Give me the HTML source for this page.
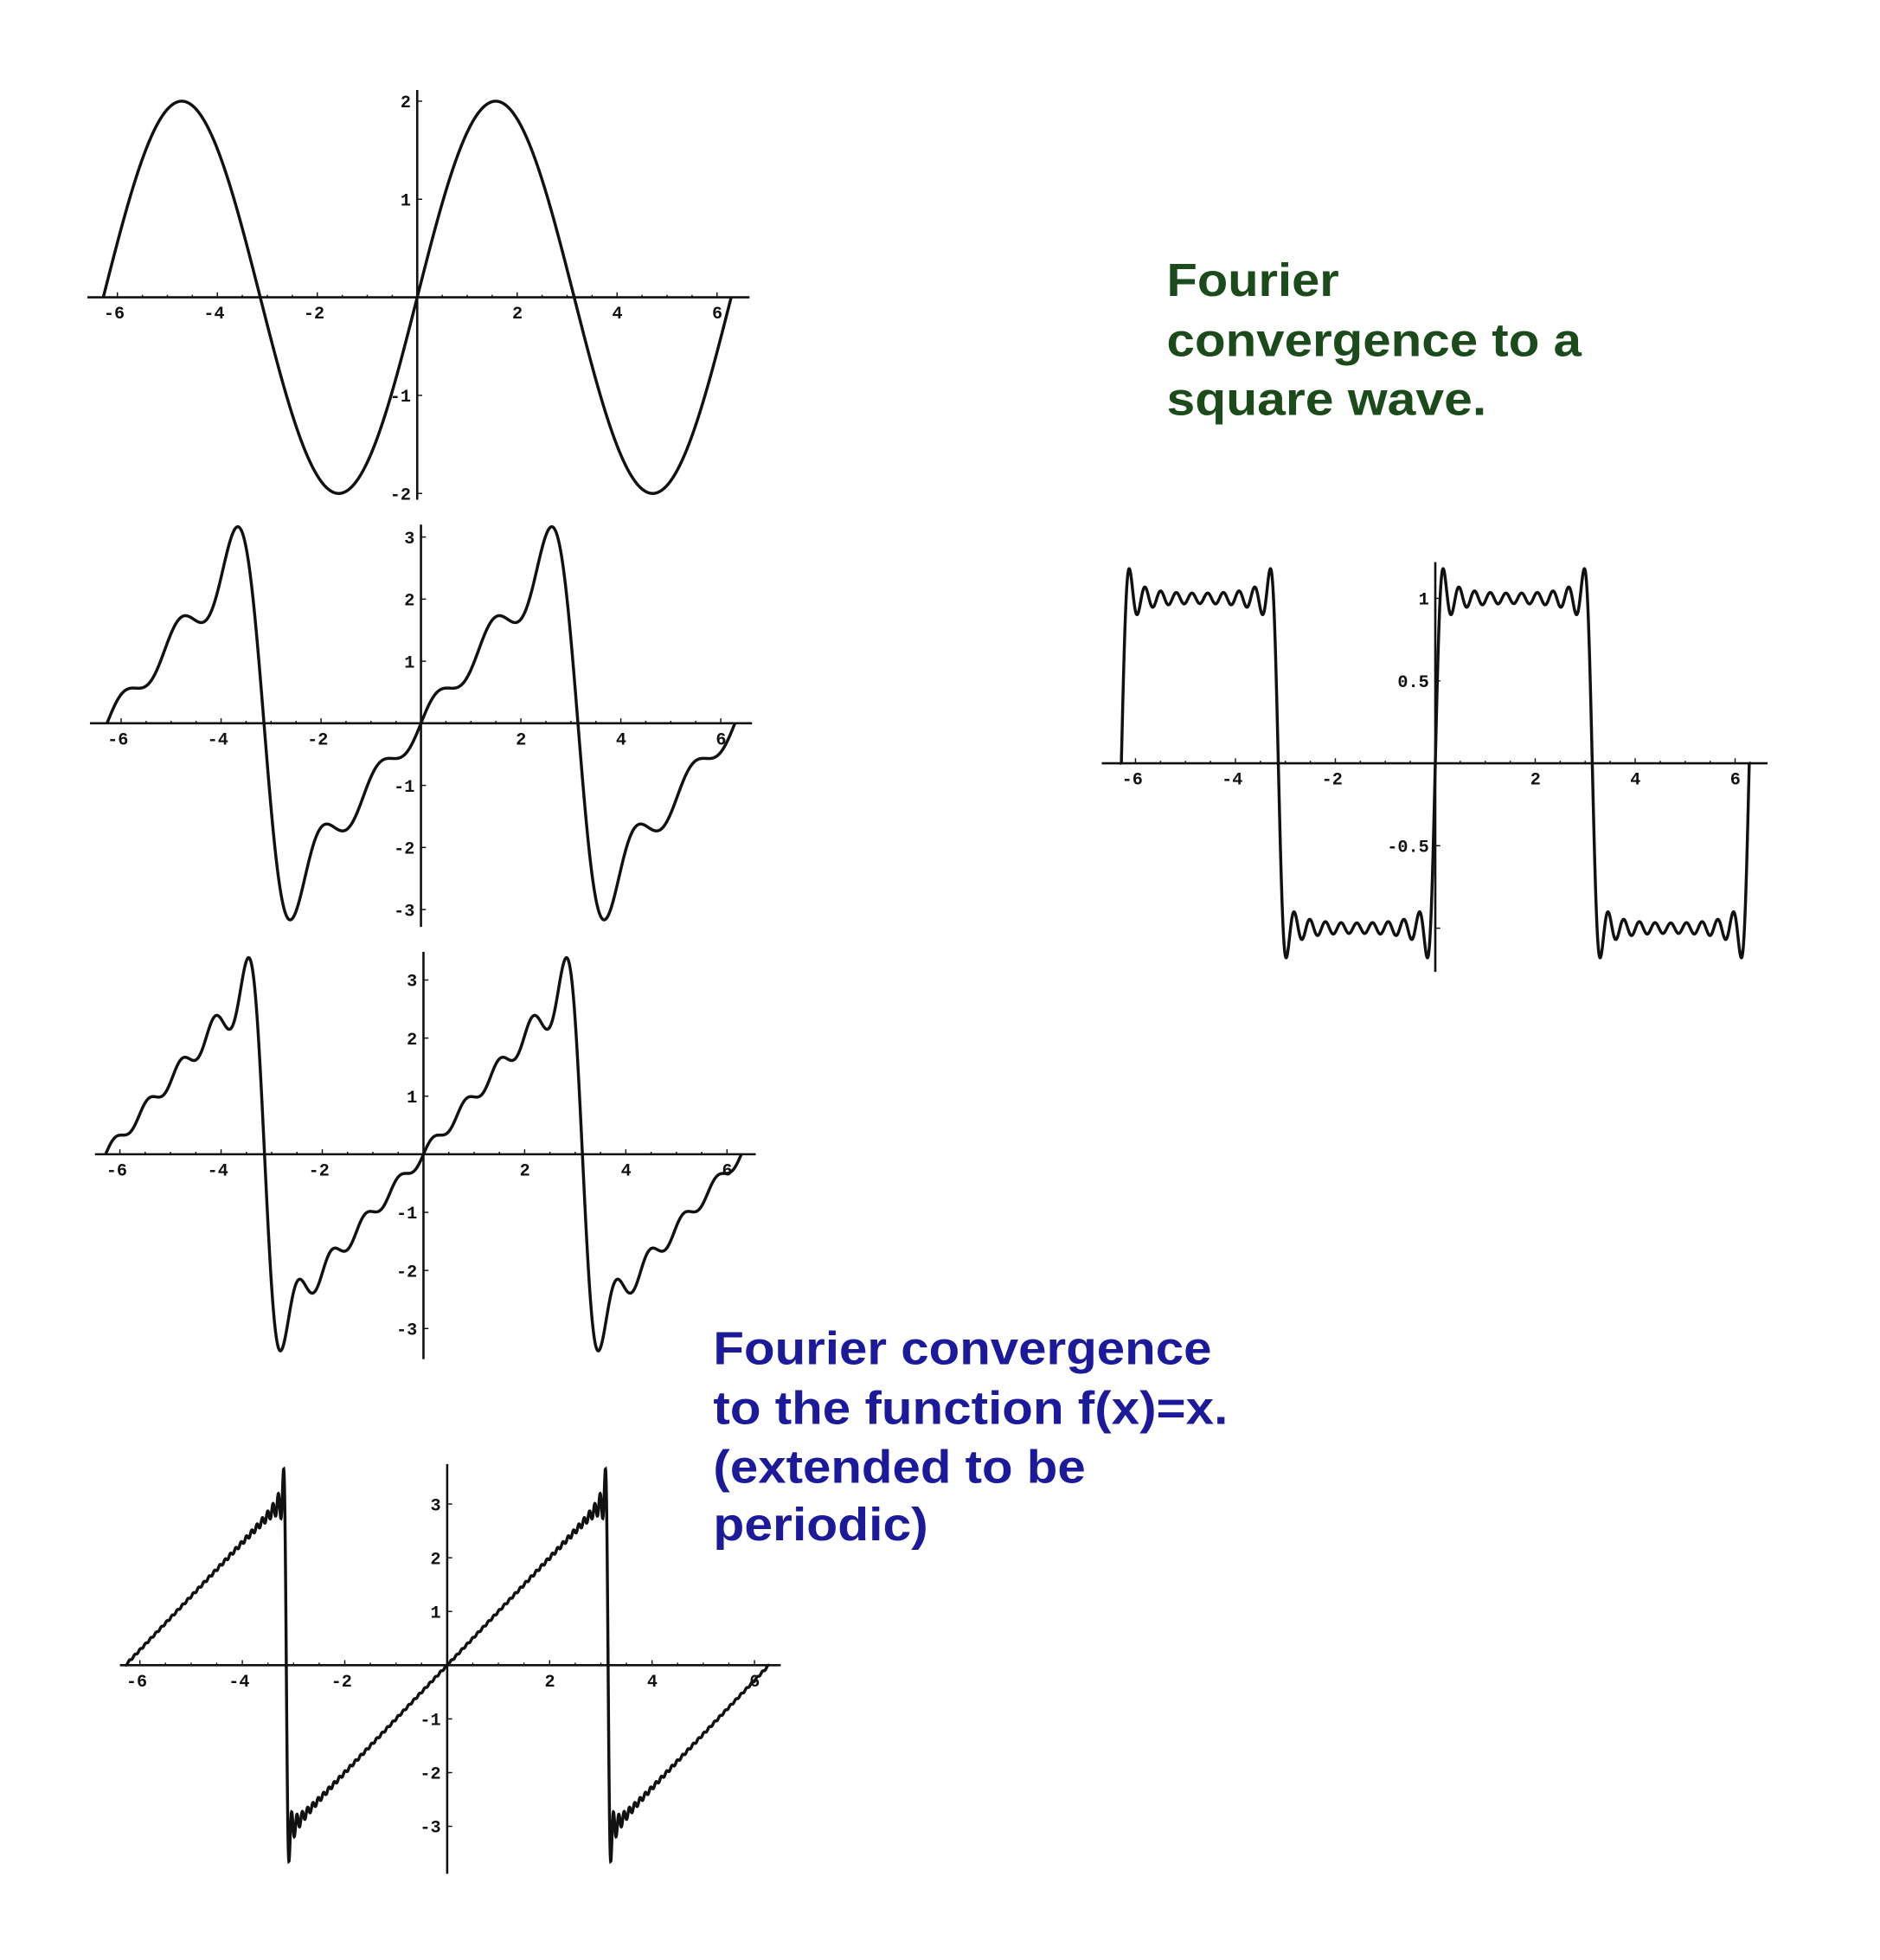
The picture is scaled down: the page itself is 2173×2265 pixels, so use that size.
<!DOCTYPE html>
<html><head><meta charset="utf-8">
<style>
html,body{margin:0;padding:0;background:#fff;}
svg{display:block;}
.t{font-family:"Liberation Mono",monospace;font-weight:bold;font-size:14px;fill:#111;}
.g{font-family:"Liberation Sans",sans-serif;font-weight:bold;font-size:37px;fill:#1b4a1b;}
.b{font-family:"Liberation Sans",sans-serif;font-weight:bold;font-size:37px;fill:#1a1a9a;}
</style></head>
<body>
<svg id="s" width="2173" height="2265" viewBox="0 0 1505 1569" preserveAspectRatio="none" xmlns="http://www.w3.org/2000/svg">
<g id="plots" fill="none" stroke="#111" stroke-width="2.2"></g>
<g id="labels"></g>
<text class="g" x="934" y="237" textLength="138" lengthAdjust="spacingAndGlyphs">Fourier</text>
<text class="g" x="934" y="285" textLength="332" lengthAdjust="spacingAndGlyphs">convergence to a</text>
<text class="g" x="934" y="332" textLength="256" lengthAdjust="spacingAndGlyphs">square wave.</text>
<text class="b" x="571" y="1092" textLength="399" lengthAdjust="spacingAndGlyphs">Fourier convergence</text>
<text class="b" x="571" y="1140" textLength="412" lengthAdjust="spacingAndGlyphs">to the function f(x)=x.</text>
<text class="b" x="571" y="1187" textLength="298" lengthAdjust="spacingAndGlyphs">(extended to be</text>
<text class="b" x="571" y="1233" textLength="172" lengthAdjust="spacingAndGlyphs">periodic)</text>
</svg>
<script>
var NS="http://www.w3.org/2000/svg";
var P=document.getElementById("plots"),L=document.getElementById("labels");
function path(d,w){var e=document.createElementNS(NS,"path");e.setAttribute("d",d);if(w)e.setAttribute("stroke-width",w);P.appendChild(e);}
function txt(x,y,s){var e=document.createElementNS(NS,"text");e.setAttribute("class","t");e.setAttribute("x",x);e.setAttribute("y",y);e.textContent=s;L.appendChild(e);}
function saw(N){return function(x){var s=0;for(var n=1;n<=N;n++)s+=2*Math.pow(-1,n+1)*Math.sin(n*x)/n;return s;};}
function sq(N){return function(x){var s=0;for(var k=0;k<N;k++){var m=2*k+1;s+=4/Math.PI*Math.sin(m*x)/m;}return s;};}
function plot(o){
 var ox=o.ox,oy=o.oy,ux=o.ux,uy=o.uy;
 path("M"+o.x0+" "+oy+"L"+o.x1+" "+oy,1.8);
 path("M"+ox+" "+o.y0+"L"+ox+" "+o.y1,1.8);
 for(var v=-6;v<=6;v+=0.5){var tx=ox+v*ux;var h=(v%2==0)?4:2;path("M"+tx+" "+oy+"L"+tx+" "+(oy-h),1);}
 o.yt.forEach(function(v){var ty=oy-v*uy;path("M"+ox+" "+ty+"L"+(ox+4)+" "+ty,1);});
 [-6,-4,-2,2,4,6].forEach(function(v){txt(ox+v*ux-(v<0?11:4),oy+17,(v<0?"-":"")+Math.abs(v));});
 o.yl.forEach(function(v){var s=(v<0?"-":"")+Math.abs(v);txt(ox-5-s.length*8.4,oy-v*uy+5,s);});
 var d,n=4000,a=-2*Math.PI,b=2*Math.PI;
 if(o.sq)d="M"+(ox+a*ux)+" "+oy+"L";else d="M";
 for(var i=0;i<=n;i++){var x=a+(b-a)*i/n;d+=(ox+x*ux).toFixed(2)+" "+(oy-o.f(x)*uy).toFixed(2)+" ";}
 if(o.sq)d+="L"+(ox+b*ux)+" "+oy;
 path(d,2.4);
}
plot({ox:334,oy:238,ux:40,uy:78.5,x0:70,x1:600,y0:72,y1:400,f:function(x){return 2*Math.sin(x);},yt:[-2,-1,1,2],yl:[-2,-1,1,2]});
plot({ox:337,oy:579,ux:40,uy:49.7,x0:72,x1:602,y0:420,y1:742,f:saw(5),yt:[-3,-2,-1,1,2,3],yl:[-3,-2,-1,1,2,3]});
plot({ox:339,oy:924,ux:40.5,uy:46.5,x0:76,x1:605,y0:762,y1:1088,f:saw(9),yt:[-3,-2,-1,1,2,3],yl:[-3,-2,-1,1,2,3]});
plot({ox:358,oy:1333,ux:41,uy:43,x0:96,x1:625,y0:1172,y1:1500,f:saw(60),yt:[-3,-2,-1,1,2,3],yl:[-3,-2,-1,1,2,3]});
plot({ox:1149,oy:611,ux:40,uy:132,x0:882,x1:1415,y0:450,y1:778,f:sq(10),sq:true,yt:[-1,-0.5,0.5,1],yl:[-0.5,0.5,1]});
</script>
</body></html>
